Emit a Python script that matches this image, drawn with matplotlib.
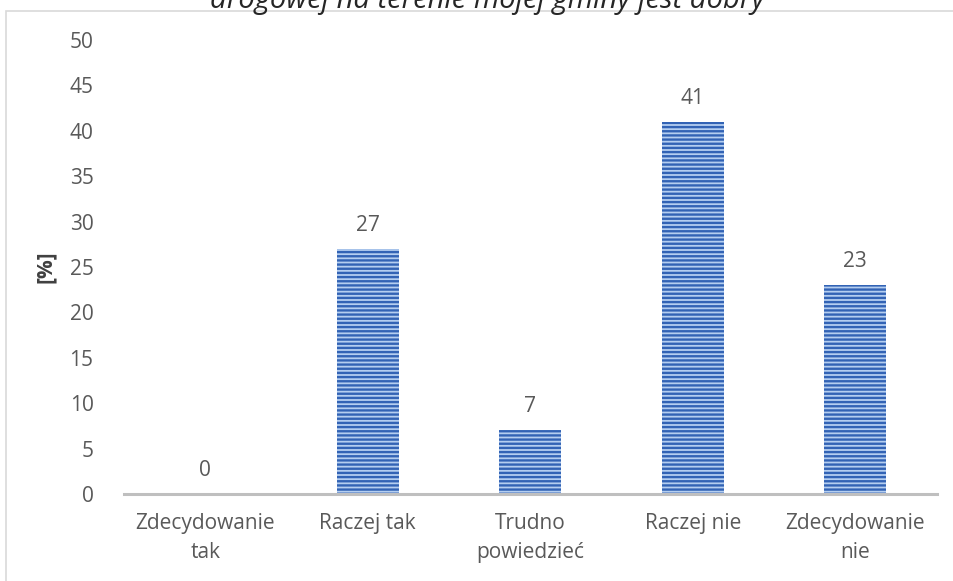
import matplotlib
matplotlib.use("Agg")
import matplotlib.pyplot as plt
from matplotlib.patches import Rectangle
import matplotlib as mpl

categories = ["Zdecydowanie\ntak", "Raczej tak", "Trudno\npowiedzieć", "Raczej nie", "Zdecydowanie\nnie"]
values = [0, 27, 7, 41, 23]
yticks = [0, 5, 10, 15, 20, 25, 30, 35, 40, 45, 50]
title_text = "drogowej na terenie mojej gminy jest dobry"
ylabel = "[%]"

mpl.rcParams['font.family'] = ['Open Sans', 'DejaVu Sans']
mpl.rcParams['hatch.linewidth'] = 1.7
txt = "#595959"
fs = 15

W, H = 954, 581
fig = plt.figure(figsize=(W/100, H/100), dpi=100)
ax = fig.add_axes([124/W, 87/H, (936.5-124)/W, (494-40)/H])

x = list(range(len(categories)))
bars = ax.bar(x, values, width=0.38, color="#B4CEF0", edgecolor="#3263B5",
              hatch="----", linewidth=0)
for xi, v in zip(x, values):
    ax.annotate(str(v), (xi, v), xytext=(0, 17), textcoords="offset points",
                ha="center", va="center", fontsize=fs, color=txt)

ax.set_xlim(-0.5, len(categories) - 0.5)
ax.set_ylim(0, 50)
ax.set_yticks(yticks)
ax.set_xticks(x)
ax.set_xticklabels(categories, fontsize=fs, color=txt, linespacing=1.45)
ax.tick_params(axis="y", length=0, pad=22, labelsize=fs, labelcolor=txt)
ax.tick_params(axis="x", length=0, pad=14)
for s in ["top", "right", "left"]:
    ax.spines[s].set_visible(False)
ax.spines["bottom"].set_color("#BFBFBF")
ax.spines["bottom"].set_linewidth(2.2)
ax.set_ylabel(ylabel, fontsize=fs, fontweight="bold", color="#404040", labelpad=10)

# chart border
fig.patches.append(Rectangle((6.5/W, -0.05), 1.1, (H-11)/H + 0.05, transform=fig.transFigure,
                             fill=False, edgecolor="#D9D9D9", linewidth=1.2))
fig.text(487/W, 1 - 8/H, title_text, ha="center", va="baseline", fontsize=21,
         style="italic", color="#262626")

fig.savefig("out.png", dpi=100)
